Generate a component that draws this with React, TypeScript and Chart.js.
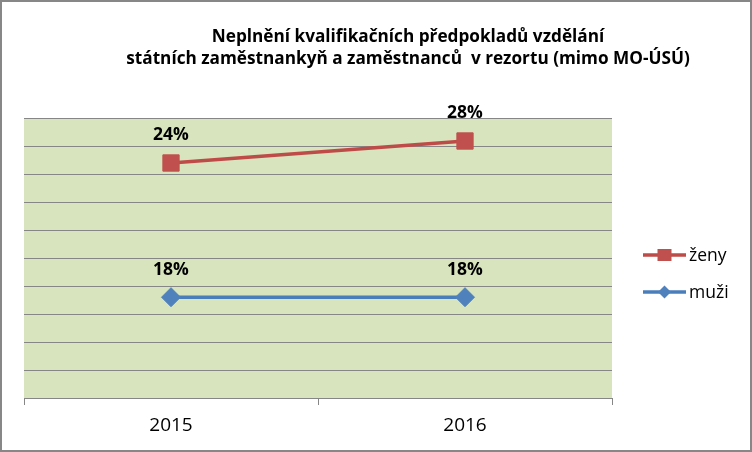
import { useEffect, useRef } from "react";
import { Chart, registerables } from "chart.js";

Chart.register(...registerables);

const categories = ["2015", "2016"];
const seriesNames = ["ženy", "muži"];
const zenyValues = [0.24, 0.28];
const muziValues = [0.18, 0.18];
const titleLines = [
  "Neplnění kvalifikačních předpokladů vzdělání",
  "státních zaměstnankyň a zaměstnanců  v rezortu (mimo MO-ÚSÚ)",
];

const FONT = "'Open Sans', 'Noto Sans', sans-serif";
const GRID = "#868686";
const PLOT_BG = "#D7E4BD";
const RED_LINE = "#BE4B48";
const RED_MARK = "#C0504D";
const BLUE_LINE = "#4A7EBB";
const BLUE_MARK = "#4F81BD";

const pct = (v: number) => Math.round(v * 100) + "%";

const chromePlugin = {
  id: "chrome",
  beforeDraw(chart: any) {
    const { ctx, width, height, chartArea } = chart;
    ctx.save();
    ctx.fillStyle = "#ffffff";
    ctx.fillRect(0, 0, width, height);
    ctx.fillStyle = PLOT_BG;
    ctx.fillRect(chartArea.left, chartArea.top, chartArea.right - chartArea.left, chartArea.bottom - chartArea.top);
    ctx.restore();
  },
  afterDatasetsDraw(chart: any) {
    const { ctx } = chart;
    ctx.save();
    ctx.font = `bold 17.5px ${FONT}`;
    ctx.fillStyle = "#000";
    ctx.textAlign = "center";
    ctx.textBaseline = "middle";
    chart.data.datasets.forEach((ds: any, i: number) => {
      const meta = chart.getDatasetMeta(i);
      meta.data.forEach((pt: any, j: number) => {
        ctx.fillText(pct(ds.data[j]), pt.x, pt.y - 27.5);
      });
    });
    ctx.restore();
  },
  afterDraw(chart: any) {
    const { ctx, width, height } = chart;
    ctx.save();
    // outer border
    ctx.strokeStyle = "#878787";
    ctx.lineWidth = 2;
    ctx.strokeRect(1, 1, width - 2, height - 2);
    // title
    ctx.fillStyle = "#000";
    ctx.font = `bold 17.2px ${FONT}`;
    ctx.textAlign = "center";
    ctx.textBaseline = "middle";
    ctx.fillText(titleLines[0], 408, 37);
    ctx.fillText(titleLines[1], 408, 59.5);
    // legend
    const rows = [255, 292];
    chart.data.datasets.forEach((ds: any, i: number) => {
      const y = rows[i];
      ctx.strokeStyle = ds.borderColor;
      ctx.lineWidth = 3.5;
      ctx.beginPath();
      ctx.moveTo(643, y);
      ctx.lineTo(686, y);
      ctx.stroke();
      ctx.fillStyle = ds.pointBackgroundColor;
      const cx = 664.5;
      if (ds.pointStyle === "rect") {
        ctx.fillRect(cx - 7, y - 6, 14, 12);
      } else {
        ctx.beginPath();
        ctx.moveTo(cx, y - 6.5);
        ctx.lineTo(cx + 6.5, y);
        ctx.lineTo(cx, y + 6.5);
        ctx.lineTo(cx - 6.5, y);
        ctx.closePath();
        ctx.fill();
      }
      ctx.fillStyle = "#000";
      ctx.font = `17.5px ${FONT}`;
      ctx.textAlign = "left";
      ctx.textBaseline = "middle";
      ctx.fillText(ds.label, 689, y + 1);
    });
    ctx.restore();
  },
};

export default function App() {
  const ref = useRef<HTMLCanvasElement | null>(null);

  useEffect(() => {
    document.body.style.margin = "0";
    if (!ref.current) return;
    const chart = new Chart(ref.current, {
      type: "line",
      data: {
        labels: categories,
        datasets: [
          {
            label: seriesNames[0],
            data: zenyValues,
            yAxisID: "y2",
            borderColor: RED_LINE,
            backgroundColor: RED_MARK,
            borderWidth: 3.5,
            pointStyle: "rect",
            pointRadius: 11.5,
            pointBackgroundColor: RED_MARK,
            pointBorderColor: RED_MARK,
            pointBorderWidth: 1,
            tension: 0,
          },
          {
            label: seriesNames[1],
            data: muziValues,
            yAxisID: "y",
            borderColor: BLUE_LINE,
            backgroundColor: BLUE_MARK,
            borderWidth: 3.5,
            pointStyle: "rectRot",
            pointRadius: 9.5,
            pointBackgroundColor: BLUE_MARK,
            pointBorderColor: BLUE_MARK,
            pointBorderWidth: 1,
            tension: 0,
          },
        ],
      },
      options: {
        animation: false,
        responsive: false,
        maintainAspectRatio: false,
        layout: { padding: { left: 24, right: 140, top: 118, bottom: 14 } },
        plugins: {
          legend: { display: false },
          title: { display: false },
          tooltip: { enabled: false },
        },
        scales: {
          x: {
            type: "category",
            offset: true,
            grid: { offset: true, drawOnChartArea: false, drawTicks: true, tickLength: 7, color: GRID },
            border: { color: GRID, width: 1 },
            ticks: { color: "#000", font: { family: FONT, size: 19 }, padding: 9 },
            afterFit: (s: any) => {
              s.height = 40;
            },
          },
          y: {
            min: 0,
            max: 0.5,
            ticks: { display: false, stepSize: 0.05 },
            grid: { color: GRID, drawTicks: false },
            border: { display: false },
            afterFit: (s: any) => {
              s.width = 0;
            },
          },
          y2: {
            display: false,
            min: -0.18727,
            max: 0.32182,
          },
        },
      },
      plugins: [chromePlugin],
    });
    return () => chart.destroy();
  }, []);

  return <canvas ref={ref} width={752} height={452} style={{ display: "block" }} />;
}
